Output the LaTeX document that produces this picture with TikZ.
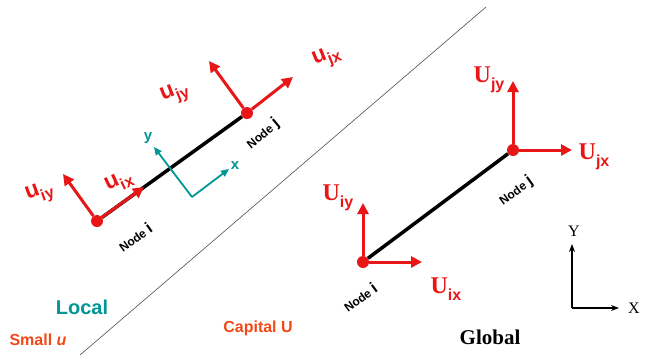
\documentclass[tikz,border=0pt]{standalone}
\usepackage{amsmath}
\usepackage{fontspec}
\setmainfont{Liberation Serif}
\setsansfont{Liberation Sans}
\usepackage{tikz}
\usetikzlibrary{arrows.meta}
\definecolor{ured}{RGB}{232,22,22}
\definecolor{uorange}{RGB}{242,72,22}
\definecolor{lteal}{RGB}{0,150,150}
\tikzstyle{dot} = [circle, fill=ured, minimum size=12pt, inner sep=0pt]
\tikzstyle{uarrow} = [draw=ured, line width=3pt, -{Triangle[length=11pt,width=11pt]}]
\tikzstyle{element} = [draw, line width=3.5pt]
\newcommand{\usub}[1]{\raisebox{-0.28em}{\sffamily\fontsize{16}{16}\selectfont #1}}

\begin{document}
\begin{tikzpicture}[x=1pt, y=-1pt]
        % 样式定义
        \tikzstyle{ulab} = [text=ured, font=\sffamily\bfseries\fontsize{23}{23}\selectfont, inner sep=0pt]
        \tikzstyle{Ulab} = [text=ured, font=\rmfamily\bfseries\fontsize{24}{24}\selectfont, inner sep=0pt]
        \tikzstyle{nodelab} = [font=\sffamily\bfseries\fontsize{12}{12}\selectfont, inner sep=0pt]
        \tikzstyle{laxis} = [draw=lteal, line width=1.8pt, -{Triangle[length=8pt,width=7pt]}]
        \tikzstyle{gaxis} = [draw, line width=1.5pt, -{Stealth[length=8pt,width=6pt]}]
        \useasboundingbox (0,0) rectangle (645,354);

        % 分界线
        \coordinate (sepA) at (80,355);
        \coordinate (sepB) at (486,7);
        \draw [gray!60!black, line width=0.6pt] (sepA) -- (sepB);

        % 局部坐标系：放置节点
        \node [dot] (li) at (97,221) {};
        \node [dot] (lj) at (247,113) {};
        \coordinate (lix) at (144,187);
        \coordinate (liy) at (63,174);
        \coordinate (ljx) at (293,77);
        \coordinate (ljy) at (209,61);
        \draw [element] (li) -- (lj);
        \draw [uarrow] (li) -- (lix);
        \draw [uarrow] (li) -- (liy);
        \draw [uarrow] (lj) -- (ljx);
        \draw [uarrow] (lj) -- (ljy);
        \node [ulab, rotate=20] (luiy) at (40,194) {u\usub{iy}};
        \node [ulab, rotate=25] (luix) at (119,182) {u\usub{ix}};
        \node [ulab, rotate=22] (lujy) at (175,94) {u\usub{jy}};
        \node [ulab, rotate=22] (lujx) at (327,58) {u\usub{jx}};
        \node [nodelab, rotate=36] (lni) at (135,237) {Node {\fontsize{16}{16}\selectfont i}};
        \node [nodelab, rotate=40] (lnj) at (263,134) {Node {\fontsize{16}{16}\selectfont j}};

        % 局部轴 x, y
        \coordinate (lo) at (192,197);
        \coordinate (lox) at (229,169);
        \coordinate (loy) at (154,147);
        \draw [laxis] (lo) -- (lox);
        \draw [laxis] (lo) -- (loy);
        \node [text=lteal, font=\sffamily\bfseries\fontsize{15}{15}\selectfont] (lxl) at (235,166) {x};
        \node [text=lteal, font=\sffamily\bfseries\fontsize{15}{15}\selectfont] (lyl) at (148,138) {y};

        % 整体坐标系：放置节点
        \node [dot] (gi) at (363,262) {};
        \node [dot] (gj) at (513,150) {};
        \coordinate (gix) at (422,262);
        \coordinate (giy) at (363,203);
        \coordinate (gjx) at (572,150);
        \coordinate (gjy) at (513,81);
        \draw [element] (gi) -- (gj);
        \draw [uarrow] (gi) -- (gix);
        \draw [uarrow] (gi) -- (giy);
        \draw [uarrow] (gj) -- (gjx);
        \draw [uarrow] (gj) -- (gjy);
        \node [Ulab] (guiy) at (338,198) {U\usub{iy}};
        \node [Ulab] (guix) at (446,289) {U\usub{ix}};
        \node [Ulab] (gujy) at (489,80) {U\usub{jy}};
        \node [Ulab] (gujx) at (594,157) {U\usub{jx}};
        \node [nodelab, rotate=36] (gni) at (360,297) {Node {\fontsize{16}{16}\selectfont i}};
        \node [nodelab, rotate=36] (gnj) at (516,191) {Node {\fontsize{16}{16}\selectfont j}};

        % 整体轴 X, Y
        \coordinate (go) at (572,308);
        \coordinate (gox) at (619,308);
        \coordinate (goy) at (572,244);
        \draw [gaxis] (go) -- (gox);
        \draw [gaxis] (go) -- (goy);
        \node [font=\rmfamily\fontsize{16}{16}\selectfont] (gxl) at (634,308) {X};
        \node [font=\rmfamily\fontsize{16}{16}\selectfont] (gyl) at (574,231) {Y};

        % 说明文字
        \node [text=lteal, font=\sffamily\bfseries\fontsize{20}{20}\selectfont] (local) at (82,307) {Local};
        \node [text=uorange, font=\sffamily\bfseries\fontsize{16}{16}\selectfont] (small) at (38,340) {Small \textit{u}};
        \node [text=uorange, font=\sffamily\bfseries\fontsize{16}{16}\selectfont] (capital) at (258,328) {Capital U};
        \node [font=\rmfamily\bfseries\fontsize{21}{21}\selectfont] (global) at (490,337) {Global};
\end{tikzpicture}
\end{document}
